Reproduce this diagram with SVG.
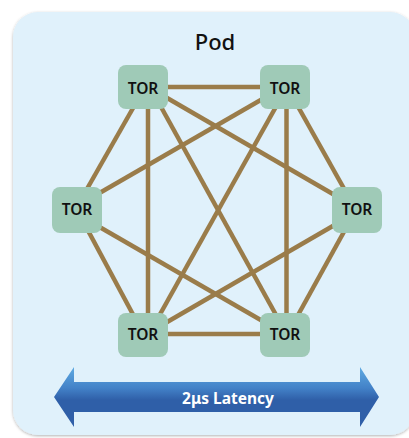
<svg xmlns="http://www.w3.org/2000/svg" width="409" height="438" viewBox="0 0 409 438">
<defs>
<filter id="sh" x="-10%" y="-10%" width="120%" height="120%">
<feDropShadow dx="0" dy="1" stdDeviation="1.5" flood-color="#000" flood-opacity="0.3"/>
</filter>
<linearGradient id="ag" x1="0" y1="0" x2="0" y2="1">
<stop offset="0" stop-color="#5eaae2"/>
<stop offset="0.35" stop-color="#4382c8"/>
<stop offset="0.55" stop-color="#2f5fa8"/>
<stop offset="1" stop-color="#2f5fa8"/>
</linearGradient>
<style>
.n rect{fill:#9fcab7}
.n text{font-family:"Noto Sans","Open Sans",sans-serif;font-size:15.5px;font-weight:600;fill:#111;text-anchor:middle}
#edges line{stroke:#9a7c4a;stroke-width:4.5;stroke-linecap:butt}
</style>
</defs>
<rect x="13" y="12" width="402" height="423" rx="25" fill="#e0f1fb" filter="url(#sh)"/>
<text x="215" y="50" font-family="Noto Sans, sans-serif" font-size="22" font-weight="500" fill="#111" text-anchor="middle">Pod</text>
<g id="edges">
<line x1="143" y1="87" x2="285" y2="87"/>
<line x1="143" y1="334" x2="285" y2="334"/>
<line x1="148" y1="87" x2="148" y2="334"/>
<line x1="286.5" y1="87" x2="286.5" y2="334"/>
<line x1="150" y1="87" x2="286" y2="333"/>
<line x1="287" y1="87" x2="149" y2="334"/>
<line x1="143" y1="84" x2="357" y2="208"/>
<line x1="285" y1="86" x2="77" y2="206"/>
<line x1="77" y1="214" x2="285" y2="334"/>
<line x1="357" y1="212" x2="143" y2="336"/>
<line x1="145" y1="87" x2="75" y2="210"/>
<line x1="77" y1="210" x2="144" y2="335"/>
<line x1="287" y1="87" x2="356" y2="210"/>
<line x1="356" y1="210" x2="287" y2="335"/>
</g>
<g id="tor-tl" class="n"><rect x="118" y="65" width="50" height="44" rx="8"/><text x="143" y="94">TOR</text></g>
<g id="tor-tr" class="n"><rect x="260" y="65" width="50" height="44" rx="8"/><text x="285" y="94">TOR</text></g>
<g id="tor-l" class="n"><rect x="52" y="187" width="50" height="46" rx="8"/><text x="77" y="215">TOR</text></g>
<g id="tor-r" class="n"><rect x="332" y="187" width="50" height="46" rx="8"/><text x="357" y="215">TOR</text></g>
<g id="tor-bl" class="n"><rect x="118" y="313" width="50" height="44" rx="8"/><text x="143" y="340">TOR</text></g>
<g id="tor-br" class="n"><rect x="260" y="313" width="50" height="44" rx="8"/><text x="285" y="340">TOR</text></g>
<g id="latency">
<polygon points="54,397 74,367 74,382 360,382 360,367 379,397 360,427 360,412 74,412 74,427" fill="url(#ag)"/>
<text x="228" y="404" font-family="Noto Sans, sans-serif" font-size="15.5" font-weight="700" fill="#fff" text-anchor="middle">2μs Latency</text>
</g>
</svg>
